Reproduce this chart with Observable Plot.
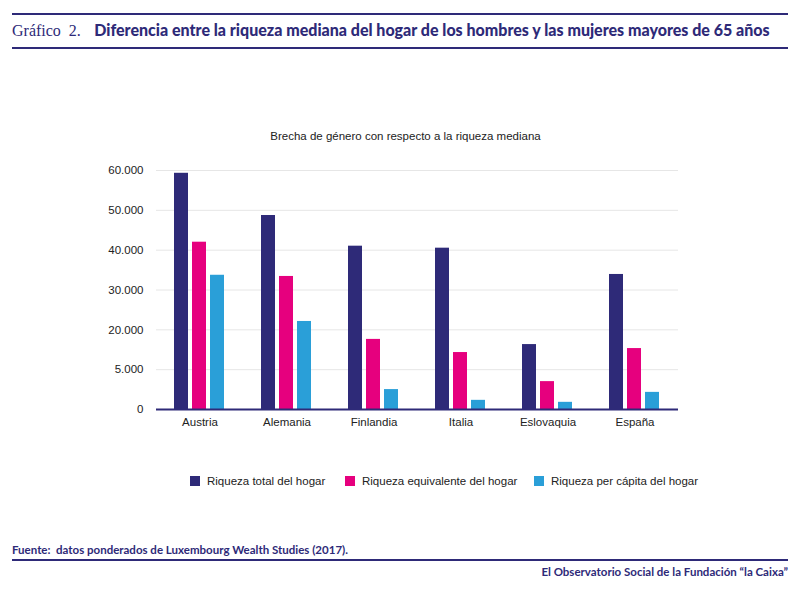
<!DOCTYPE html>
<html><head><meta charset="utf-8">
<script src="https://cdn.jsdelivr.net/npm/d3@7"></script>
<script src="https://cdn.jsdelivr.net/npm/@observablehq/plot@0.6"></script>
<style>
body{margin:0;width:800px;height:591px;position:relative;font-family:Arial,"Liberation Sans",sans-serif;background:#fff;overflow:hidden}
.ln{position:absolute;left:12px;width:776px;background:#2e2a78}
#chart{position:absolute;left:0;top:160px}
.li{position:absolute;top:475px;display:flex;align-items:center;font-size:11.5px;color:#222;white-space:nowrap}
</style></head><body>
<div class="ln" style="top:13px;height:2px"></div>
<div style="position:absolute;left:12px;top:20px;font-size:16px;color:#2e2a78;white-space:nowrap"><span style="font-family:'Liberation Serif',serif;font-size:16px">Gráfico&nbsp; 2.</span>&nbsp;&nbsp;&nbsp;<b style="font-family:Lato,sans-serif;font-weight:900">Diferencia entre la riqueza mediana del hogar de los hombres y las mujeres mayores de 65 años</b></div>
<div class="ln" style="top:47px;height:2px"></div>
<div style="position:absolute;left:0;width:811px;top:130px;text-align:center;font-size:11.5px;color:#222">Brecha de género con respecto a la riqueza mediana</div>
<div id="chart"></div>
<div id="legend"></div>
<div style="position:absolute;left:12px;top:543px;font-size:11.5px;color:#2e2a78;font-weight:bold;font-family:Lato,sans-serif">Fuente:&nbsp; datos ponderados de Luxembourg Wealth Studies (2017).</div>
<div class="ln" style="top:559px;height:2px"></div>
<div style="position:absolute;right:12px;top:565px;font-size:11.5px;color:#2e2a78;font-weight:bold;font-family:Lato,sans-serif">El Observatorio Social de la Fundación “la Caixa”</div>
<script>
const countries=["Austria","Alemania","Finlandia","Italia","Eslovaquia","España"];
const series=["Riqueza total del hogar","Riqueza equivalente del hogar","Riqueza per cápita del hogar"];
const colors=["#2e2a78","#e6007e","#2a9fd8"];
const total=[59300,48700,41000,40500,16300,33900];
const equiv=[42000,33400,17600,14300,7000,15300];
const capita=[33700,22100,5000,2300,1800,4300];
const yTicks=[0,10000,20000,30000,40000,50000,60000];
const yLabels=["0","5.000","20.000","30.000","40.000","50.000","60.000"];
const vals=[total,equiv,capita];
const data=[];
countries.forEach((c,i)=>series.forEach((s,j)=>data.push({c,s,v:vals[j][i]})));
const chart=Plot.plot({
  width:800,height:280,marginTop:10,marginBottom:31,marginLeft:155,marginRight:122,
  style:{fontFamily:"Arial, 'Liberation Sans', sans-serif",fontSize:"11.5px",color:"#222"},
  fx:{domain:countries,padding:0,label:null,axis:"bottom",tickSize:0,tickPadding:8},
  x:{domain:series,paddingInner:0.21,paddingOuter:0.9,axis:null},
  y:{domain:[0,60000],ticks:yTicks,tickFormat:d=>yLabels[yTicks.indexOf(d)],label:null,tickSize:0,tickPadding:13},
  color:{domain:series,range:colors},
  marks:[
    Plot.gridY(yTicks,{stroke:"#e6e6e6",strokeOpacity:1}),
    Plot.barY(data,{fx:"c",x:"s",y:"v",fill:"s"}),
    Plot.ruleY([0],{stroke:"#2e2a78",strokeWidth:2})
  ]
});
document.getElementById("chart").append(chart);
const lg=document.getElementById("legend");
const lx=[190,345,534];
series.forEach((s,j)=>{const d=document.createElement("div");d.className="li";d.style.left=lx[j]+"px";d.innerHTML=`<span style="width:10px;height:10px;background:${colors[j]};display:inline-block;margin-right:7px"></span>${s}`;lg.append(d);});
</script>
</body></html>
